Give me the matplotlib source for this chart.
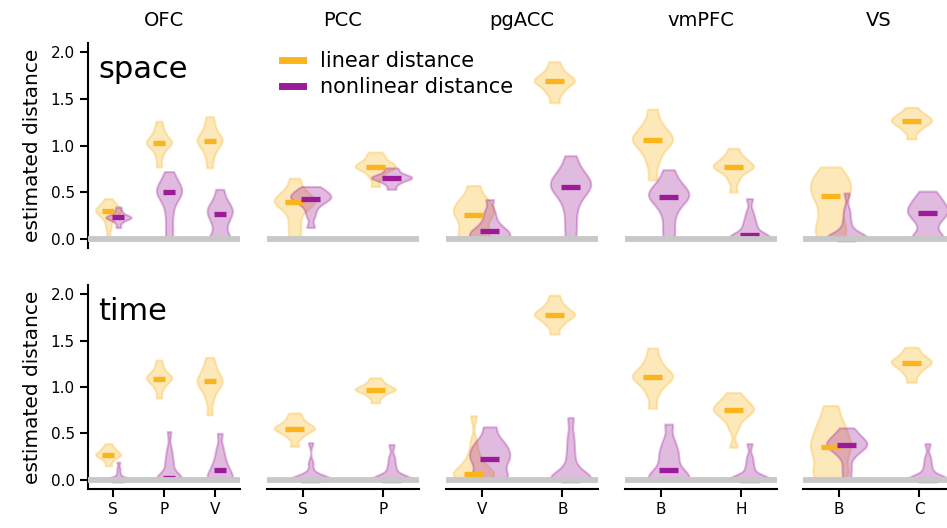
import numpy as np
import matplotlib.pyplot as plt
from matplotlib.lines import Line2D

regions = ['OFC', 'PCC', 'pgACC', 'vmPFC', 'VS']
conditions = [['S', 'P', 'V'], ['S', 'P'], ['V', 'B'], ['B', 'H'], ['B', 'C']]
row_names = ['space', 'time']

# medians (the thick bars)
space_linear_med = [[0.30, 1.03, 1.05], [0.39, 0.77], [0.25, 1.69], [1.06, 0.77], [0.46, 1.26]]
space_nonlin_med = [[0.23, 0.50, 0.27], [0.43, 0.65], [0.08, 0.56], [0.45, 0.04], [0.00, 0.28]]
time_linear_med = [[0.27, 1.09, 1.06], [0.55, 0.97], [0.06, 1.78], [1.11, 0.75], [0.35, 1.26]]
time_nonlin_med = [[0.00, 0.02, 0.11], [0.00, 0.00], [0.22, 0.00], [0.10, 0.00], [0.37, 0.00]]

# rough sample values per violin (shape of each distribution)
space_linear = [
    [[0.0, 0.12, 0.2, 0.24, 0.27, 0.29, 0.30, 0.31, 0.33, 0.35, 0.38, 0.43],
     [0.77, 0.88, 0.95, 0.99, 1.01, 1.03, 1.04, 1.06, 1.09, 1.13, 1.18, 1.26],
     [0.76, 0.87, 0.94, 0.99, 1.02, 1.05, 1.06, 1.09, 1.12, 1.17, 1.23, 1.31]],
    [[0.0, 0.1, 0.2, 0.3, 0.35, 0.38, 0.4, 0.42, 0.45, 0.48, 0.55, 0.65],
     [0.56, 0.65, 0.7, 0.74, 0.76, 0.77, 0.78, 0.8, 0.82, 0.85, 0.89, 0.93]],
    [[0.0, 0.03, 0.08, 0.14, 0.2, 0.25, 0.28, 0.32, 0.36, 0.4, 0.46, 0.57],
     [1.46, 1.55, 1.6, 1.64, 1.67, 1.69, 1.7, 1.72, 1.75, 1.78, 1.83, 1.9]],
    [[0.63, 0.8, 0.9, 0.97, 1.02, 1.05, 1.07, 1.1, 1.14, 1.19, 1.26, 1.39],
     [0.5, 0.62, 0.69, 0.73, 0.76, 0.77, 0.78, 0.8, 0.83, 0.86, 0.9, 0.97]],
    [[0.0, 0.05, 0.12, 0.2, 0.3, 0.4, 0.46, 0.52, 0.57, 0.62, 0.68, 0.77],
     [1.07, 1.15, 1.19, 1.22, 1.24, 1.26, 1.27, 1.29, 1.31, 1.33, 1.36, 1.41]],
]
space_nonlin = [
    [[0.12, 0.17, 0.2, 0.21, 0.22, 0.23, 0.23, 0.24, 0.25, 0.27, 0.3, 0.34],
     [0.0, 0.12, 0.25, 0.36, 0.43, 0.47, 0.5, 0.52, 0.55, 0.59, 0.64, 0.72],
     [0.0, 0.0, 0.02, 0.12, 0.18, 0.23, 0.27, 0.3, 0.33, 0.37, 0.43, 0.53]],
    [[0.12, 0.25, 0.33, 0.38, 0.41, 0.43, 0.44, 0.46, 0.48, 0.5, 0.53, 0.56],
     [0.53, 0.58, 0.61, 0.63, 0.64, 0.65, 0.66, 0.67, 0.68, 0.7, 0.73, 0.76]],
    [[0.0, 0.0, 0.02, 0.04, 0.06, 0.08, 0.1, 0.13, 0.17, 0.23, 0.3, 0.42],
     [0.0, 0.15, 0.3, 0.42, 0.49, 0.54, 0.57, 0.6, 0.64, 0.69, 0.76, 0.89]],
    [[0.0, 0.12, 0.25, 0.34, 0.4, 0.44, 0.46, 0.49, 0.53, 0.57, 0.63, 0.74],
     [0.0, 0.0, 0.0, 0.0, 0.01, 0.03, 0.05, 0.1, 0.15, 0.2, 0.28, 0.43]],
    [[0.0, 0.0, 0.0, 0.0, 0.0, 0.0, 0.02, 0.06, 0.12, 0.2, 0.3, 0.49],
     [0.0, 0.0, 0.03, 0.13, 0.2, 0.25, 0.28, 0.31, 0.35, 0.39, 0.44, 0.51]],
]
time_linear = [
    [[0.15, 0.2, 0.23, 0.25, 0.26, 0.27, 0.28, 0.29, 0.31, 0.33, 0.35, 0.39],
     [0.88, 0.97, 1.02, 1.05, 1.08, 1.09, 1.1, 1.12, 1.14, 1.17, 1.22, 1.29],
     [0.7, 0.85, 0.94, 0.99, 1.03, 1.05, 1.07, 1.1, 1.14, 1.18, 1.24, 1.32]],
    [[0.36, 0.45, 0.49, 0.52, 0.54, 0.55, 0.56, 0.58, 0.6, 0.63, 0.67, 0.72],
     [0.83, 0.89, 0.92, 0.95, 0.96, 0.97, 0.98, 0.99, 1.01, 1.03, 1.06, 1.1]],
    [[0.0, 0.02, 0.04, 0.05, 0.06, 0.08, 0.11, 0.15, 0.2, 0.27, 0.4, 0.69],
     [1.57, 1.66, 1.7, 1.74, 1.76, 1.78, 1.79, 1.81, 1.84, 1.87, 1.92, 1.99]],
    [[0.77, 0.92, 1.0, 1.05, 1.09, 1.11, 1.12, 1.15, 1.19, 1.24, 1.31, 1.42],
     [0.35, 0.55, 0.64, 0.69, 0.72, 0.75, 0.76, 0.78, 0.81, 0.84, 0.88, 0.94]],
    [[0.0, 0.04, 0.1, 0.18, 0.26, 0.33, 0.37, 0.43, 0.5, 0.57, 0.66, 0.8],
     [1.05, 1.13, 1.18, 1.21, 1.24, 1.26, 1.27, 1.29, 1.31, 1.34, 1.38, 1.43]],
]
time_nonlin = [
    [[0.0, 0.0, 0.0, 0.0, 0.0, 0.0, 0.0, 0.01, 0.03, 0.07, 0.12, 0.19],
     [0.0, 0.0, 0.0, 0.0, 0.01, 0.02, 0.05, 0.12, 0.18, 0.24, 0.33, 0.52],
     [0.0, 0.0, 0.01, 0.03, 0.06, 0.1, 0.12, 0.16, 0.21, 0.27, 0.35, 0.5]],
    [[0.0, 0.0, 0.0, 0.0, 0.0, 0.0, 0.0, 0.01, 0.03, 0.08, 0.18, 0.4],
     [0.0, 0.0, 0.0, 0.0, 0.0, 0.0, 0.01, 0.04, 0.1, 0.16, 0.24, 0.38]],
    [[0.0, 0.02, 0.06, 0.12, 0.18, 0.22, 0.26, 0.3, 0.34, 0.39, 0.45, 0.57],
     [0.0, 0.0, 0.0, 0.0, 0.0, 0.01, 0.04, 0.1, 0.2, 0.32, 0.46, 0.67]],
    [[0.0, 0.0, 0.0, 0.02, 0.06, 0.1, 0.15, 0.22, 0.28, 0.34, 0.43, 0.6],
     [0.0, 0.0, 0.0, 0.0, 0.0, 0.0, 0.01, 0.04, 0.1, 0.16, 0.24, 0.39]],
    [[0.0, 0.12, 0.24, 0.3, 0.34, 0.36, 0.38, 0.4, 0.43, 0.46, 0.5, 0.56],
     [0.0, 0.0, 0.0, 0.0, 0.0, 0.0, 0.01, 0.04, 0.1, 0.16, 0.24, 0.39]],
]

lin_color = '#fbb41c'
non_color = '#9b1b98'

W, H = 947, 528
fig = plt.figure(figsize=(W / 100, H / 100), dpi=100)

col_left = [88, 267, 446, 625, 803]
col_w = 152
row_top = [43, 285]
row_h = [205, 204]

data = [[(space_linear, space_linear_med, lin_color, -0.1),
         (space_nonlin, space_nonlin_med, non_color, 0.1)],
        [(time_linear, time_linear_med, lin_color, -0.1),
         (time_nonlin, time_nonlin_med, non_color, 0.1)]]

for r in range(2):
    for c in range(5):
        ax = fig.add_axes([col_left[c] / W, 1 - (row_top[r] + row_h[r]) / H,
                           col_w / W, row_h[r] / H])
        x = np.arange(len(conditions[c]))
        for samples, meds, color, off in data[r]:
            parts = ax.violinplot(samples[c], positions=x + off, widths=0.5,
                                  showextrema=False, bw_method=0.35, points=200)
            for b in parts['bodies']:
                b.set_facecolor(color)
                b.set_edgecolor(color)
                b.set_alpha(0.3)
                b.set_linewidth(1.5)
            ax.hlines(meds[c], x + off - 0.12, x + off + 0.12, color=color,
                      lw=3.8, zorder=3)
        ax.axhline(0, color='#c8c8c8', lw=4.2, zorder=4)
        ax.set_ylim(-0.1, 2.1)
        if len(x) == 3:
            ax.set_xlim(-0.5, 2.5)
        else:
            ax.set_xlim(-0.44, 1.44)
        ax.set_xticks(x)
        ax.set_xticklabels(conditions[c])
        ax.set_yticks([0, 0.5, 1.0, 1.5, 2.0])
        ax.set_yticklabels(['0.0', '0.5', '1.0', '1.5', '2.0'])
        ax.tick_params(length=6, width=1.5, labelsize=11)
        for s in ['top', 'right']:
            ax.spines[s].set_visible(False)
        ax.spines['left'].set_linewidth(1.5)
        ax.spines['bottom'].set_linewidth(1.5)
        if c > 0:
            ax.spines['left'].set_visible(False)
            ax.tick_params(left=False, labelleft=False)
        else:
            ax.set_ylabel('estimated distance', fontsize=14.5, labelpad=6)
            ax.text(0.066, 0.83, row_names[r], transform=ax.transAxes,
                    fontsize=22, va='baseline')
        if r == 0:
            ax.spines['bottom'].set_visible(False)
            ax.tick_params(bottom=False, labelbottom=False)
            ax.set_title(regions[c], fontsize=14, pad=12)

handles = [Line2D([], [], color=lin_color, lw=5),
           Line2D([], [], color=non_color, lw=5)]
fig.legend(handles, ['linear distance', 'nonlinear distance'], loc='upper left',
           bbox_to_anchor=(282 / W, 1 - 51 / H), frameon=False, fontsize=15,
           handlelength=1.0, handletextpad=0.8, borderpad=0, borderaxespad=0,
           labelspacing=0.3)

fig.savefig('out.png', dpi=100)
